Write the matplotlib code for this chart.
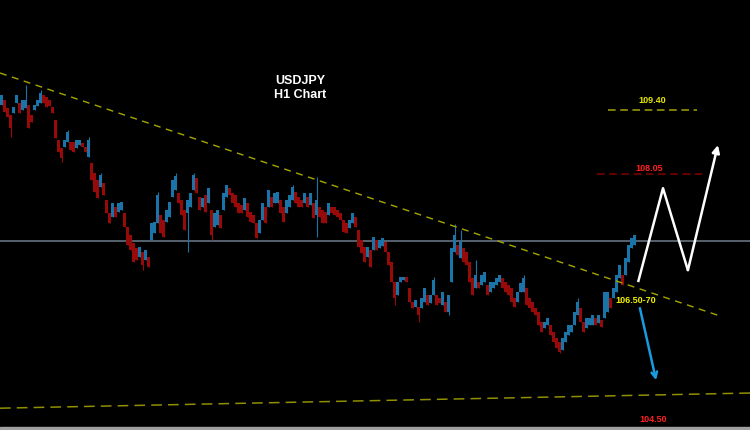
import numpy as np
import matplotlib.pyplot as plt
from matplotlib.patches import Rectangle

plt.rcParams['font.family'] = ['Liberation Sans', 'DejaVu Sans']

# H1 candles (price range of each bar)
highs = [
    109.72, 109.61, 109.44, 109.29, 109.46, 109.72, 109.55, 109.61, 109.61, 109.50,
    109.29, 109.50, 109.61, 109.76, 109.72, 109.67, 109.61, 109.46, 109.19, 108.77,
    108.60, 108.77, 108.94, 108.72, 108.72, 108.77, 108.77, 108.70, 108.62, 108.77,
    108.28, 108.07, 107.92, 108.03, 107.86, 107.50, 107.23, 107.44, 107.35, 107.44,
    107.46, 107.23, 106.93, 106.76, 106.59, 106.49, 106.51, 106.40, 106.45, 106.30,
    107.02, 107.04, 107.61, 107.18, 107.08, 107.29, 107.46, 107.92, 108.01, 107.65,
    107.50, 107.29, 107.50, 107.65, 108.03, 107.96, 107.56, 107.54, 107.61, 107.75,
    107.29, 107.23, 107.29, 107.18, 107.65, 107.82, 107.75, 107.65, 107.61, 107.44,
    107.39, 107.54, 107.44, 107.25, 107.18, 107.02, 107.08, 107.44, 107.35, 107.71,
    107.56, 107.65, 107.67, 107.50, 107.35, 107.50, 107.61, 107.77, 107.67, 107.56,
    107.50, 107.65, 107.56, 107.65, 107.44, 107.50, 107.35, 107.29, 107.25, 107.44,
    107.35, 107.35, 107.29, 107.23, 107.08, 107.02, 107.08, 107.23, 107.14, 106.87,
    106.66, 106.51, 106.51, 106.45, 106.72, 106.66, 106.66, 106.70, 106.61, 106.40,
    106.19, 105.77, 105.77, 105.88, 105.88, 105.88, 105.64, 105.35, 105.39, 105.24,
    105.43, 105.64, 105.50, 105.50, 105.81, 105.50, 105.43, 105.56, 105.35, 105.50,
    106.49, 106.76, 106.55, 106.61, 106.49, 106.40, 106.19, 105.85, 105.92, 105.77,
    105.92, 105.98, 105.71, 105.77, 105.77, 105.85, 105.92, 105.85, 105.77, 105.71,
    105.64, 105.43, 105.56, 105.75, 105.85, 105.64, 105.43, 105.35, 105.22, 105.14,
    104.93, 104.93, 105.01, 104.86, 104.72, 104.59, 104.50, 104.59, 104.72, 104.86,
    104.86, 105.14, 105.35, 105.22, 104.93, 105.01, 105.01, 105.07, 105.01, 105.07,
    104.97, 105.56, 105.56, 105.43, 105.64, 105.92, 106.13, 105.92, 106.28, 106.55,
    106.70, 106.76,
]
lows = [
    109.50, 109.36, 109.25, 109.02, 109.34, 109.55, 109.34, 109.40, 109.44, 109.02,
    109.15, 109.40, 109.48, 109.55, 109.55, 109.46, 109.48, 109.34, 108.81, 108.51,
    108.39, 108.62, 108.72, 108.56, 108.51, 108.60, 108.66, 108.62, 108.51, 108.41,
    107.92, 107.67, 107.54, 107.77, 107.61, 107.23, 107.02, 107.14, 107.14, 107.25,
    107.29, 106.93, 106.55, 106.45, 106.19, 106.23, 106.30, 106.13, 106.23, 106.09,
    106.66, 106.80, 107.02, 106.80, 106.72, 107.04, 107.14, 107.56, 107.71, 107.44,
    107.18, 106.87, 107.23, 107.35, 107.71, 107.65, 107.29, 107.35, 107.25, 107.44,
    106.76, 106.93, 106.97, 106.91, 107.29, 107.56, 107.61, 107.44, 107.35, 107.23,
    107.23, 107.29, 107.14, 107.04, 107.02, 106.70, 106.80, 107.08, 107.02, 107.35,
    107.35, 107.44, 107.44, 107.23, 107.04, 107.23, 107.35, 107.50, 107.44, 107.35,
    107.35, 107.44, 107.35, 107.39, 107.12, 107.18, 107.14, 107.02, 107.02, 107.18,
    107.23, 107.18, 107.14, 107.08, 106.83, 106.80, 106.91, 107.02, 106.93, 106.51,
    106.38, 106.19, 106.30, 106.09, 106.45, 106.45, 106.49, 106.53, 106.40, 106.13,
    105.77, 105.43, 105.50, 105.77, 105.81, 105.77, 105.35, 105.22, 105.24, 105.07,
    105.22, 105.35, 105.28, 105.33, 105.50, 105.28, 105.33, 105.28, 105.14, 105.14,
    105.77, 106.40, 106.34, 106.28, 106.19, 106.13, 105.77, 105.50, 105.64, 105.64,
    105.71, 105.77, 105.50, 105.56, 105.64, 105.71, 105.77, 105.64, 105.56, 105.50,
    105.35, 105.24, 105.35, 105.56, 105.56, 105.28, 105.22, 105.14, 105.07, 104.86,
    104.72, 104.80, 104.86, 104.65, 104.50, 104.38, 104.29, 104.34, 104.50, 104.65,
    104.72, 104.86, 105.07, 104.93, 104.72, 104.80, 104.86, 104.86, 104.86, 104.91,
    104.82, 105.01, 105.14, 105.22, 105.43, 105.56, 105.85, 105.71, 105.92, 106.19,
    106.49, 106.55,
]
# long wicks (bar index -> extreme price)
wick_high = {8: 109.93, 13: 109.82, 22: 108.98, 29: 108.83, 33: 108.07, 52: 107.67,
             58: 108.07, 64: 108.07, 97: 107.82, 105: 107.99, 144: 105.88, 151: 106.99,
             153: 106.87, 158: 106.23, 174: 105.92, 192: 105.43}
wick_low = {3: 108.83, 20: 108.30, 47: 106.02, 62: 106.40, 70: 106.66, 105: 106.72,
            131: 105.28, 139: 104.93, 149: 105.07, 186: 104.27}

# drawing objects
trend_x, trend_y = [-0.5, 238.8], [110.18, 105.07]
support_x, support_y = [-0.5, 249.5], [103.11, 103.43]
hline_price = 106.63
level_up = (109.40, 202.2, 231.8)
level_mid = (108.05, 198.5, 235.2)
zigzag_x = [212.2, 220.5, 228.8, 238.8]
zigzag_y = [105.77, 107.75, 106.02, 108.66]
down_x, down_y = [212.8, 218.2], [105.22, 103.70]

UP = '#1a74a8'
DOWN = '#960a0a'

fig = plt.figure(figsize=(7.5, 4.3), dpi=100)
fig.patch.set_facecolor('black')
ax = fig.add_axes([0, 0, 1, 1])
ax.set_facecolor('black')
ax.set_xlim(-0.5, 249.5)
ax.set_ylim(102.65, 111.72)
ax.axis('off')

hi = np.array(highs)
lo = np.array(lows)
x = np.arange(len(hi))
mid = (hi + lo) / 2
colors = [UP] + [UP if mid[i] >= mid[i - 1] else DOWN for i in range(1, len(mid))]
whi = np.array([wick_high.get(i, h) for i, h in enumerate(hi)])
wlo = np.array([wick_low.get(i, l) for i, l in enumerate(lo)])

ax.axhline(hline_price, color='#5c6b78', lw=1.3, zorder=1)
ax.vlines(x, wlo, whi, colors=colors, lw=0.8, zorder=2)
ax.bar(x, hi - lo, bottom=lo, width=0.7, color=colors, zorder=3)

ax.plot(trend_x, trend_y, color='#a6a600', lw=1, dashes=(5, 4), zorder=4)
ax.plot(support_x, support_y, color='#8f8f00', lw=1.1, dashes=(7, 4), zorder=4)

ax.plot(level_up[1:], [level_up[0]] * 2, color='#a3a300', lw=1.1, dashes=(5, 3))
ax.plot(level_mid[1:], [level_mid[0]] * 2, color='#800000', lw=1.1, dashes=(5, 3))
ax.text(216.8, 109.59, '109.40', color='#e6e600', fontsize=6.5, fontweight='bold',
        ha='center', va='center')
ax.text(215.8, 108.17, '108.05', color='#ff1f1f', fontsize=6.5, fontweight='bold',
        ha='center', va='center')
ax.text(204.8, 105.39, '106.50-70', color='#f2f200', fontsize=6.5, fontweight='bold',
        ha='left', va='center')
ax.text(217.2, 102.88, '104.50', color='#ff1f1f', fontsize=6.5, fontweight='bold',
        ha='center', va='center')

ax.plot(zigzag_x[:-1], zigzag_y[:-1], color='white', lw=1.8, solid_capstyle='butt')
ax.annotate('', xy=(zigzag_x[-1], zigzag_y[-1]), xytext=(zigzag_x[-2], zigzag_y[-2]),
            arrowprops=dict(arrowstyle='-|>', color='white', lw=1.8,
                            mutation_scale=11, shrinkA=0, shrinkB=0))
ax.annotate('', xy=(down_x[1], down_y[1]), xytext=(down_x[0], down_y[0]),
            arrowprops=dict(arrowstyle='->', color='#1a9be0', lw=1.8,
                            mutation_scale=10, shrinkA=0, shrinkB=0))

fig.text(0.4, 1 - 88 / 430, 'USDJPY\nH1 Chart', color='white', fontsize=9,
         fontweight='bold', ha='center', va='center', multialignment='center')
fig.patches.append(Rectangle((0, 0), 1, 3 / 430, transform=fig.transFigure,
                             color='#a0a0a0', zorder=10))

fig.savefig('out.png', dpi=100, facecolor='black')
